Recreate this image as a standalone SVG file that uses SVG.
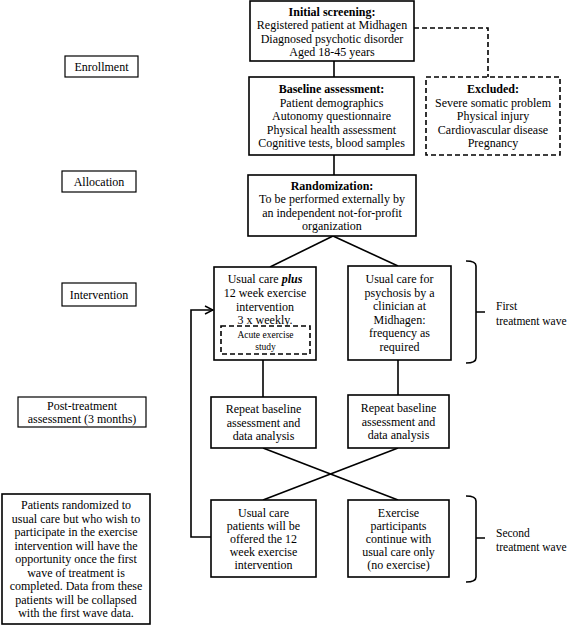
<svg xmlns="http://www.w3.org/2000/svg" width="568" height="626" viewBox="0 0 568 626">
<defs>
<style>
.box{fill:#fff;stroke:#000;stroke-width:1.6}
.lbl{fill:#fff;stroke:#000;stroke-width:1.2}
.dash{fill:#fff;stroke:#000;stroke-width:1.6;stroke-dasharray:5,3}
.ln{fill:none;stroke:#000;stroke-width:1.6}
text{font-family:"Liberation Serif","Times New Roman",serif;font-size:12px;fill:#000;text-anchor:middle}
.b{font-weight:bold}
.sm{font-size:9.5px}
.st{text-anchor:start;font-size:11.5px}
</style>
<marker id="open" markerWidth="10" markerHeight="10" refX="9" refY="5" orient="auto" markerUnits="userSpaceOnUse">
<path d="M1,1 L9,5 L1,9" fill="none" stroke="#000" stroke-width="1.4"/>
</marker>
</defs>
<rect width="568" height="626" fill="#fff"/>
<g id="connectors">
<line class="ln" x1="334" y1="61" x2="334" y2="77"/>
<line class="ln" x1="334" y1="155" x2="334" y2="175"/>
<path class="ln" d="M414,28 H488 V77" stroke-dasharray="5,3"/>
<line class="ln" x1="333" y1="236" x2="270" y2="267"/>
<line class="ln" x1="333" y1="236" x2="398" y2="266"/>
<line class="ln" x1="263" y1="360" x2="263" y2="397"/>
<line class="ln" x1="398" y1="360" x2="398" y2="395"/>
<line class="ln" x1="263" y1="448" x2="398" y2="500"/>
<line class="ln" x1="398" y1="448" x2="263" y2="500"/>
<path class="ln" d="M211,537 H191 V310 H213" marker-end="url(#open)"/>
<path class="ln" d="M466,261 Q476,261 476,266 V358 Q476,363 466,363 M476,312 H485"/>
<path class="ln" d="M466,496 Q476,496 476,501 V577 Q476,582 466,582 M476,538 H485"/>
</g>
<g id="initial">
<rect class="box" x="250" y="1" width="164" height="60"/>
<text x="332" y="15.5" class="b">Initial screening:</text>
<text x="332" y="29">Registered patient at Midhagen</text>
<text x="332" y="42.5">Diagnosed psychotic disorder</text>
<text x="332" y="56">Aged 18-45 years</text>
</g>
<g id="baseline">
<rect class="box" x="249" y="77" width="165" height="78"/>
<text x="331.5" y="93" class="b">Baseline assessment:</text>
<text x="331.5" y="106.5">Patient demographics</text>
<text x="331.5" y="120">Autonomy questionnaire</text>
<text x="331.5" y="133.5">Physical health assessment</text>
<text x="331.5" y="147">Cognitive tests, blood samples</text>
</g>
<g id="excluded">
<rect class="dash" x="426" y="77" width="134" height="78"/>
<text x="493" y="93" class="b">Excluded:</text>
<text x="493" y="106.5">Severe somatic problem</text>
<text x="493" y="120">Physical injury</text>
<text x="493" y="133.5">Cardiovascular disease</text>
<text x="493" y="147">Pregnancy</text>
</g>
<g id="randomization">
<rect class="box" x="248" y="175" width="168" height="61"/>
<text x="332" y="189.5" class="b">Randomization:</text>
<text x="332" y="203">To be performed externally by</text>
<text x="332" y="216.5">an independent not-for-profit</text>
<text x="332" y="230">organization</text>
</g>
<g id="exercise-arm">
<rect class="box" x="214" y="267" width="102" height="93"/>
<text x="265" y="283">Usual care <tspan font-weight="bold" font-style="italic">plus</tspan></text>
<text x="265" y="297">12 week exercise</text>
<text x="265" y="310.5">intervention</text>
<text x="265" y="324">3 x weekly.</text>
</g>
<g id="acute">
<rect class="dash" x="221" y="326" width="89" height="28"/>
<text x="265.5" y="338" class="sm">Acute exercise</text>
<text x="265.5" y="350" class="sm">study</text>
</g>
<g id="usual-arm">
<rect class="box" x="348" y="266" width="103" height="94"/>
<text x="399.5" y="283">Usual care for</text>
<text x="399.5" y="296.5">psychosis by a</text>
<text x="399.5" y="310">clinician at</text>
<text x="399.5" y="323.5">Midhagen:</text>
<text x="399.5" y="337">frequency as</text>
<text x="399.5" y="350.5">required</text>
</g>
<g id="repeat-left">
<rect class="box" x="211" y="397" width="105" height="51"/>
<text x="263.5" y="413">Repeat baseline</text>
<text x="263.5" y="426.5">assessment and</text>
<text x="263.5" y="440">data analysis</text>
</g>
<g id="repeat-right">
<rect class="box" x="348" y="395" width="101" height="53"/>
<text x="398.5" y="412">Repeat baseline</text>
<text x="398.5" y="425.5">assessment and</text>
<text x="398.5" y="439">data analysis</text>
</g>
<g id="second-left">
<rect class="box" x="211" y="500" width="105" height="77"/>
<text x="263.5" y="516.5">Usual care</text>
<text x="263.5" y="529.5">patients will be</text>
<text x="263.5" y="542.5">offered the 12</text>
<text x="263.5" y="555.5">week exercise</text>
<text x="263.5" y="568.5">intervention</text>
</g>
<g id="second-right">
<rect class="box" x="348" y="500" width="101" height="77"/>
<text x="398.5" y="516.5">Exercise</text>
<text x="398.5" y="529.5">participants</text>
<text x="398.5" y="542.5">continue with</text>
<text x="398.5" y="555.5">usual care only</text>
<text x="398.5" y="568.5">(no exercise)</text>
</g>
<g id="label-enrollment">
<rect class="lbl" x="65" y="56" width="73" height="21"/>
<text x="101.5" y="70.5">Enrollment</text>
</g>
<g id="label-allocation">
<rect class="lbl" x="62" y="171" width="74" height="21"/>
<text x="99" y="185.5">Allocation</text>
</g>
<g id="label-intervention">
<rect class="lbl" x="62" y="283" width="74" height="23"/>
<text x="99" y="298.5">Intervention</text>
</g>
<g id="label-post">
<rect class="lbl" x="18" y="397" width="128" height="30"/>
<text x="82" y="409.5">Post-treatment</text>
<text x="82" y="422.5">assessment (3 months)</text>
</g>
<g id="note">
<rect class="box" x="2" y="494" width="148" height="130"/>
<text x="76" y="509">Patients randomized to</text>
<text x="76" y="522.5">usual care but who wish to</text>
<text x="76" y="536">participate in the exercise</text>
<text x="76" y="549.5">intervention will have the</text>
<text x="76" y="563">opportunity once the first</text>
<text x="76" y="576.5">wave of treatment is</text>
<text x="76" y="590">completed. Data from these</text>
<text x="76" y="603.5">patients will be collapsed</text>
<text x="76" y="617">with the first wave data.</text>
</g>
<g id="wave-first">
<text x="496" y="310" class="st">First</text>
<text x="496" y="325" class="st">treatment wave</text>
</g>
<g id="wave-second">
<text x="496" y="537" class="st">Second</text>
<text x="496" y="551" class="st">treatment wave</text>
</g>
</svg>
